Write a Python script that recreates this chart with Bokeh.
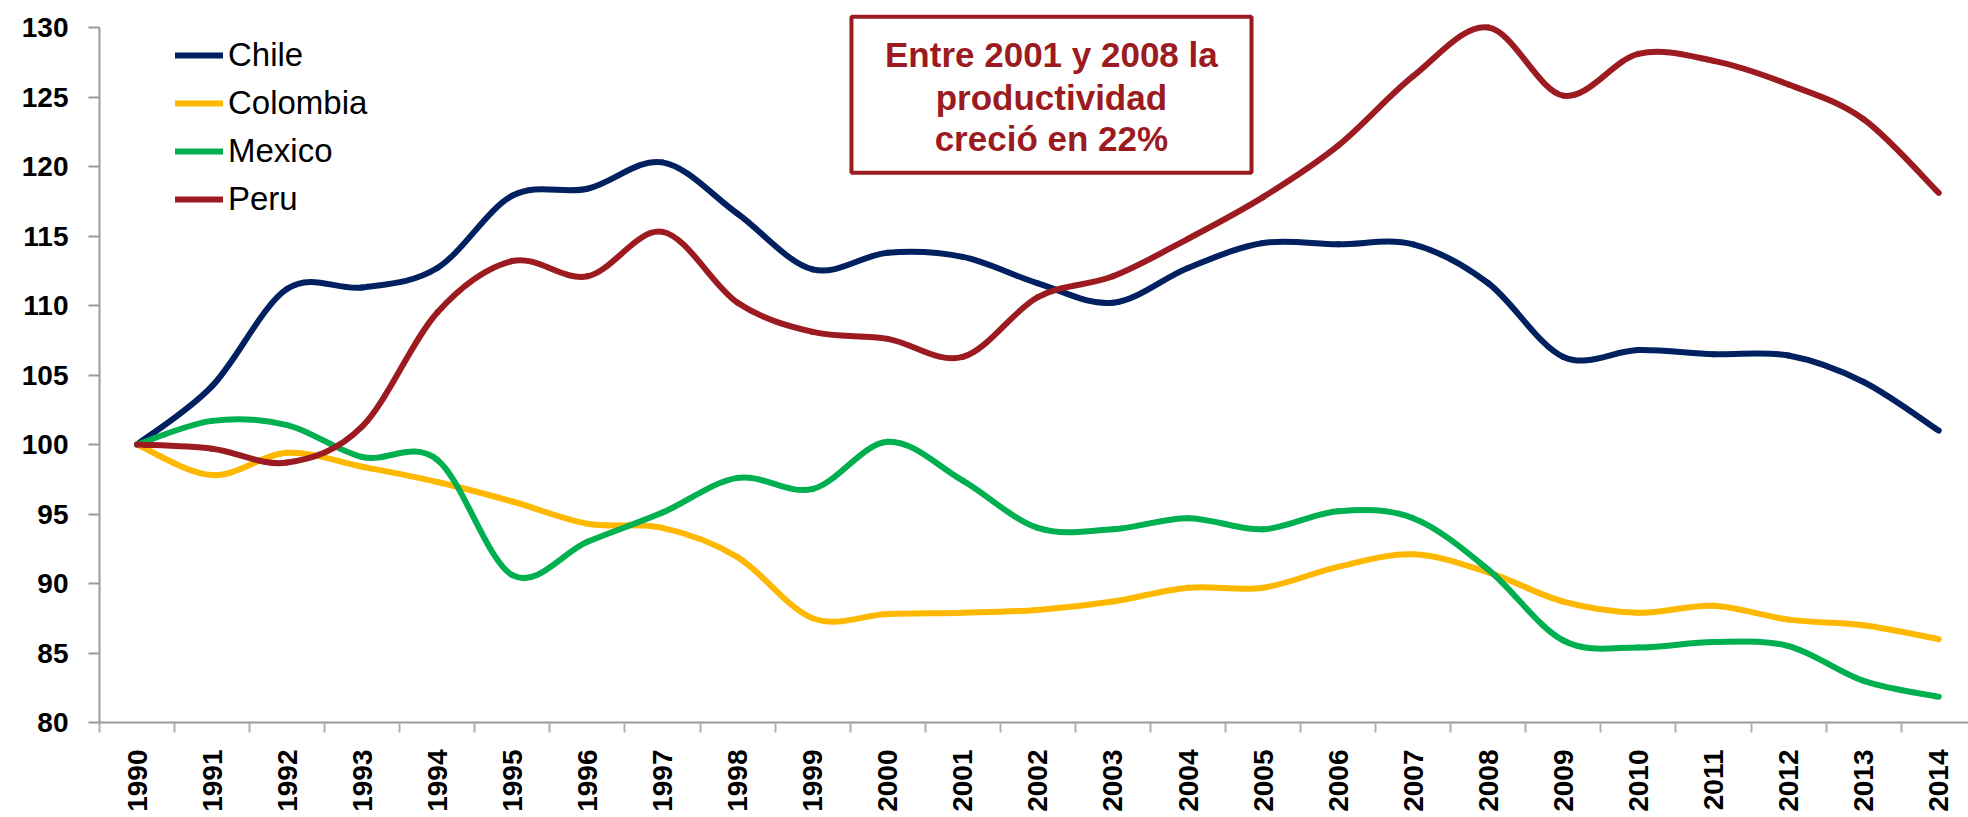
import math
import numpy as np
from bokeh.plotting import figure
from bokeh.models import (Range1d, FixedTicker, Legend, LegendItem, BoxAnnotation,
                          Label, ColumnDataSource)
from bokeh.embed import file_html
from bokeh.resources import INLINE

# ---------------- data ----------------
years = list(range(1990, 2015))
chile = [100.0, 104.2, 111.2, 111.3, 112.7, 117.9, 118.4, 120.3, 116.6, 112.6,
         113.8, 113.5, 111.6, 110.2, 112.7, 114.5, 114.4, 114.4, 111.6, 106.3,
         106.8, 106.5, 106.4, 104.5, 101.0]
colombia = [100.0, 97.8, 99.4, 98.4, 97.3, 95.9, 94.3, 94.0, 91.9, 87.5,
            87.8, 87.9, 88.1, 88.7, 89.7, 89.7, 91.2, 92.1, 90.8, 88.7,
            87.9, 88.4, 87.4, 87.0, 86.0]
mexico = [100.0, 101.7, 101.4, 99.1, 98.9, 90.6, 93.0, 95.1, 97.6, 96.8,
          100.2, 97.4, 94.0, 93.9, 94.7, 93.9, 95.2, 94.7, 91.0, 85.9,
          85.4, 85.8, 85.5, 83.0, 81.85]
peru = [100.0, 99.7, 98.7, 101.3, 109.5, 113.2, 112.1, 115.3, 110.2, 108.1,
        107.6, 106.3, 110.6, 112.1, 114.8, 117.8, 121.5, 126.5, 130.0, 125.1,
        128.1, 127.6, 125.9, 123.4, 118.1]
series_names = ["Chile", "Colombia", "Mexico", "Peru"]
series_values = [chile, colombia, mexico, peru]
series_colors = ["#002060", "#FFB800", "#00B050", "#9B1B20"]
y_ticks = [80, 85, 90, 95, 100, 105, 110, 115, 120, 125, 130]
note_lines = ["Entre 2001 y 2008 la", "productividad", "creció en 22%"]
note_color = "#9B1B20"


def smooth_segments(xs, ys):
    """Cubic Bezier control points (Catmull-Rom style, like a smoothed line)."""
    x = np.asarray(xs, dtype=float)
    y = np.asarray(ys, dtype=float)
    xp = np.concatenate([[x[0]], x, [x[-1]]])
    yp = np.concatenate([[y[0]], y, [y[-1]]])
    n = len(x)
    d = dict(x0=[], y0=[], x1=[], y1=[], cx0=[], cy0=[], cx1=[], cy1=[])
    for i in range(n - 1):
        j = i + 1  # index into padded arrays
        d["x0"].append(x[i]); d["y0"].append(y[i])
        d["x1"].append(x[i + 1]); d["y1"].append(y[i + 1])
        d["cx0"].append(x[i] + (xp[j + 1] - xp[j - 1]) / 6.0)
        d["cy0"].append(y[i] + (yp[j + 1] - yp[j - 1]) / 6.0)
        d["cx1"].append(x[i + 1] - (xp[j + 2] - xp[j]) / 6.0)
        d["cy1"].append(y[i + 1] - (yp[j + 2] - yp[j]) / 6.0)
    return d


p = figure(width=1968, height=817,
           x_range=Range1d(1989.5, 2014.397), y_range=Range1d(80, 131.08),
           output_backend="svg", toolbar_location=None,
           min_border_left=99, min_border_right=0, min_border_top=12,
           min_border_bottom=95)
p.outline_line_color = None
p.xgrid.grid_line_color = None
p.ygrid.grid_line_color = None
p.background_fill_color = "white"

font = "Liberation Sans"
axis_color = "#9a9a9a"

# y axis
ya = p.yaxis[0]
ya.ticker = FixedTicker(ticks=y_ticks)
ya.bounds = (80, 130)
ya.axis_line_color = axis_color
ya.axis_line_width = 2
ya.major_tick_line_color = axis_color
ya.major_tick_line_width = 2
ya.major_tick_in = 0
ya.major_tick_out = 11
ya.minor_tick_out = 0
ya.minor_tick_in = 0
ya.major_label_standoff = 20
ya.major_label_text_font = font
ya.major_label_text_font_size = "28px"
ya.major_label_text_font_style = "bold"
ya.major_label_text_color = "black"

# x axis
xa = p.xaxis[0]
xa.ticker = FixedTicker(ticks=years, minor_ticks=[y - 0.5 for y in years] + [years[-1] + 0.5])
xa.axis_line_color = axis_color
xa.axis_line_width = 2
xa.major_tick_in = 0
xa.major_tick_out = 0
xa.major_tick_line_color = None
xa.minor_tick_in = 0
xa.minor_tick_out = 10
xa.minor_tick_line_color = "#b0b0b0"
xa.minor_tick_line_width = 2
xa.major_label_orientation = math.pi / 2
xa.major_label_standoff = 17
xa.major_label_text_font = font
xa.major_label_text_font_size = "28px"
xa.major_label_text_font_style = "bold"
xa.major_label_text_color = "black"

renderers = []
for name, vals, col in zip(series_names, series_values, series_colors):
    src = ColumnDataSource(smooth_segments(years, vals))
    r = p.bezier(x0="x0", y0="y0", x1="x1", y1="y1", cx0="cx0", cy0="cy0",
                 cx1="cx1", cy1="cy1", source=src, line_color=col,
                 line_width=6, line_cap="round")
    renderers.append(r)

legend = Legend(items=[LegendItem(label=n, renderers=[r]) for n, r in zip(series_names, renderers)],
                location=(76, 503), padding=0, spacing=8, glyph_width=48, glyph_height=40,
                label_height=40, label_standoff=5, border_line_alpha=0,
                background_fill_alpha=0, label_text_font=font,
                label_text_font_size="33px", label_text_color="black",
                margin=0)
p.add_layout(legend)

box = BoxAnnotation(left=1999.517, right=2004.846, top=130.77, bottom=119.55,
                    fill_alpha=0, line_color=note_color, line_alpha=1.0, line_width=4)
p.add_layout(box)
for txt, yy in zip(note_lines, [128.09, 124.93, 121.98]):
    p.add_layout(Label(x=2002.18, y=yy, text=txt, text_align="center",
                       text_baseline="middle", text_font=font,
                       text_font_size="35px", text_font_style="bold",
                       text_color=note_color))

open("out.html", "w").write(file_html(p, INLINE))
